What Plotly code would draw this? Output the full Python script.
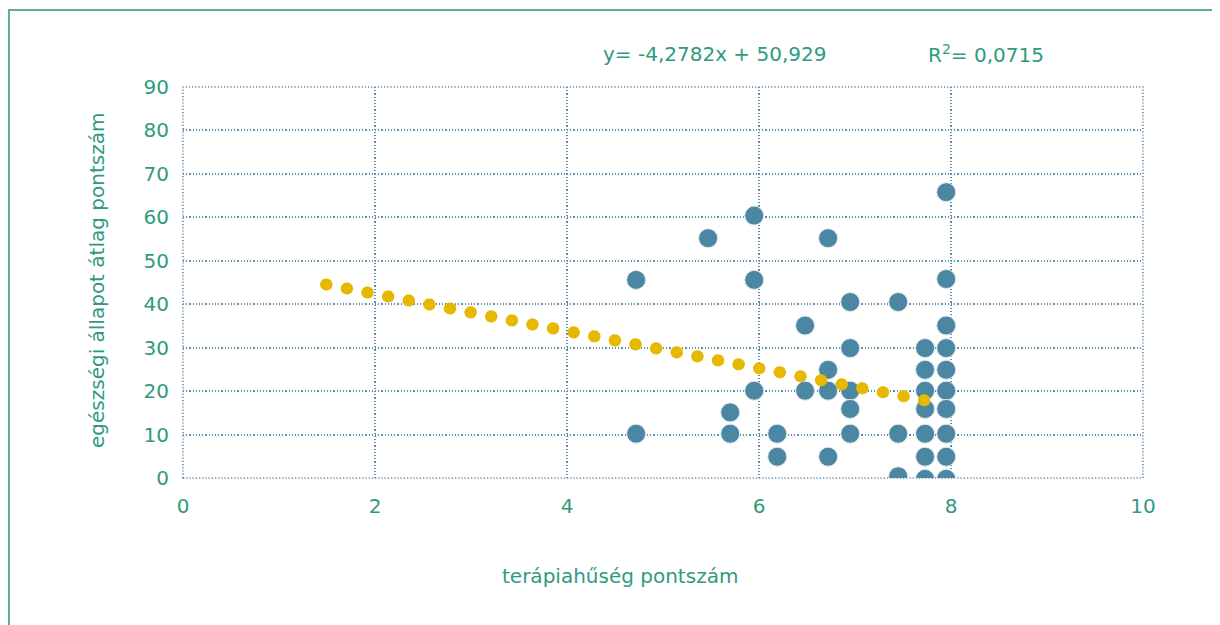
import plotly.graph_objects as go

# Data
x_vals = [4.72, 4.72, 5.47, 5.70, 5.70, 5.95, 5.95, 5.95, 6.19, 6.19,
          6.48, 6.48, 6.72, 6.72, 6.72, 6.72, 6.95, 6.95, 6.95, 6.95,
          6.95, 7.45, 7.45, 7.45, 7.73, 7.73, 7.73, 7.73, 7.73, 7.73,
          7.73, 7.95, 7.95, 7.95, 7.95, 7.95, 7.95, 7.95, 7.95, 7.95, 7.95]
y_vals = [45.6, 10.2, 55.2, 15.1, 10.2, 60.4, 45.6, 20.1, 10.2, 4.9,
          35.1, 20.1, 55.2, 24.9, 20.1, 4.9, 40.5, 29.9, 20.1, 15.9,
          10.2, 40.5, 10.2, 0.4, 29.9, 24.9, 20.1, 15.9, 10.2, 4.9,
          -0.2, 65.8, 45.8, 35.1, 29.9, 24.9, 20.1, 15.9, 10.2, 4.9, -0.2]

slope = -4.2782
intercept = 50.929
trend_x = [1.49, 7.73]
trend_y = [slope * v + intercept for v in trend_x]

x_ticks = [0, 2, 4, 6, 8, 10]
y_ticks = [0, 10, 20, 30, 40, 50, 60, 70, 80, 90]

teal = "#2f9a7f"
grid = "#5a8fae"
grid_dash = "1.2px,2px"
font_family = "DejaVu Sans, Verdana, sans-serif"

# page body has an 8px offset
L, T, PW, PH = 175, 79, 960, 391
OX, OY = 8 + L, 8 + T  # plot-area origin in page pixels


def px(xp):
    return (xp - OX) / PW


def py(yp):
    return (OY + PH - yp) / PH


fig = go.Figure()
fig.add_trace(go.Scatter(
    x=x_vals, y=y_vals, mode="markers",
    marker=dict(size=19, color="#4b87a3", line=dict(width=1, color="#dfe9ee")),
    hoverinfo="skip", showlegend=False))
fig.add_trace(go.Scatter(
    x=trend_x, y=trend_y, mode="lines",
    line=dict(color="#e6b800", width=12, dash="0.5px,20.5px"),
    hoverinfo="skip", showlegend=False))

fig.update_layout(
    width=1220, height=625,
    margin=dict(l=L, r=1220 - L - PW, t=T, b=625 - T - PH),
    paper_bgcolor="white", plot_bgcolor="white",
    font=dict(family=font_family, color=teal, size=18),
    xaxis=dict(range=[0, 10], tickvals=x_ticks, ticktext=[str(t) for t in x_ticks],
               showgrid=True, gridcolor=grid, griddash=grid_dash, gridwidth=1.6,
               zeroline=False, showline=False, ticks="", ticklabelstandoff=14,
               tickfont=dict(size=20, color=teal)),
    yaxis=dict(range=[0, 90], tickvals=y_ticks, ticktext=[str(t) for t in y_ticks],
               showgrid=True, gridcolor=grid, griddash=grid_dash, gridwidth=1.6,
               zeroline=False, showline=False, ticks="", ticklabelstandoff=13,
               tickfont=dict(size=20, color=teal)),
    shapes=[
        dict(type="rect", xref="paper", yref="paper",
             x0=px(9), x1=px(1235), y0=py(640), y1=py(10),
             line=dict(color="#62ab97", width=2), fillcolor="rgba(0,0,0,0)", layer="below"),
        dict(type="rect", xref="paper", yref="paper",
             x0=0, x1=1, y0=0, y1=1,
             line=dict(color=grid, width=1.6, dash=grid_dash),
             fillcolor="rgba(0,0,0,0)", layer="below"),
    ],
    annotations=[
        dict(text="y= -4,2782x + 50,929", xref="paper", yref="paper",
             x=px(601), y=py(54), xanchor="left", yanchor="middle",
             showarrow=False, font=dict(size=20, color=teal)),
        dict(text="R<sup>2</sup>= 0,0715", xref="paper", yref="paper",
             x=px(926), y=py(54), xanchor="left", yanchor="middle",
             showarrow=False, font=dict(size=20, color=teal)),
        dict(text="terápiahűség pontszám", xref="paper", yref="paper",
             x=px(620), y=py(576), xanchor="center", yanchor="middle",
             showarrow=False, font=dict(size=20, color=teal)),
        dict(text="egészségi állapot átlag pontszám", xref="paper", yref="paper",
             x=px(97), y=py(281), xanchor="center", yanchor="middle",
             textangle=-90, showarrow=False, font=dict(size=20, color=teal)),
    ],
)

post = """
var paths = document.querySelectorAll('.scatterlayer .trace path.js-line');
paths.forEach(function(p){ p.style.strokeLinecap = 'round'; });
"""
fig.write_html("out.html", post_script=post)
